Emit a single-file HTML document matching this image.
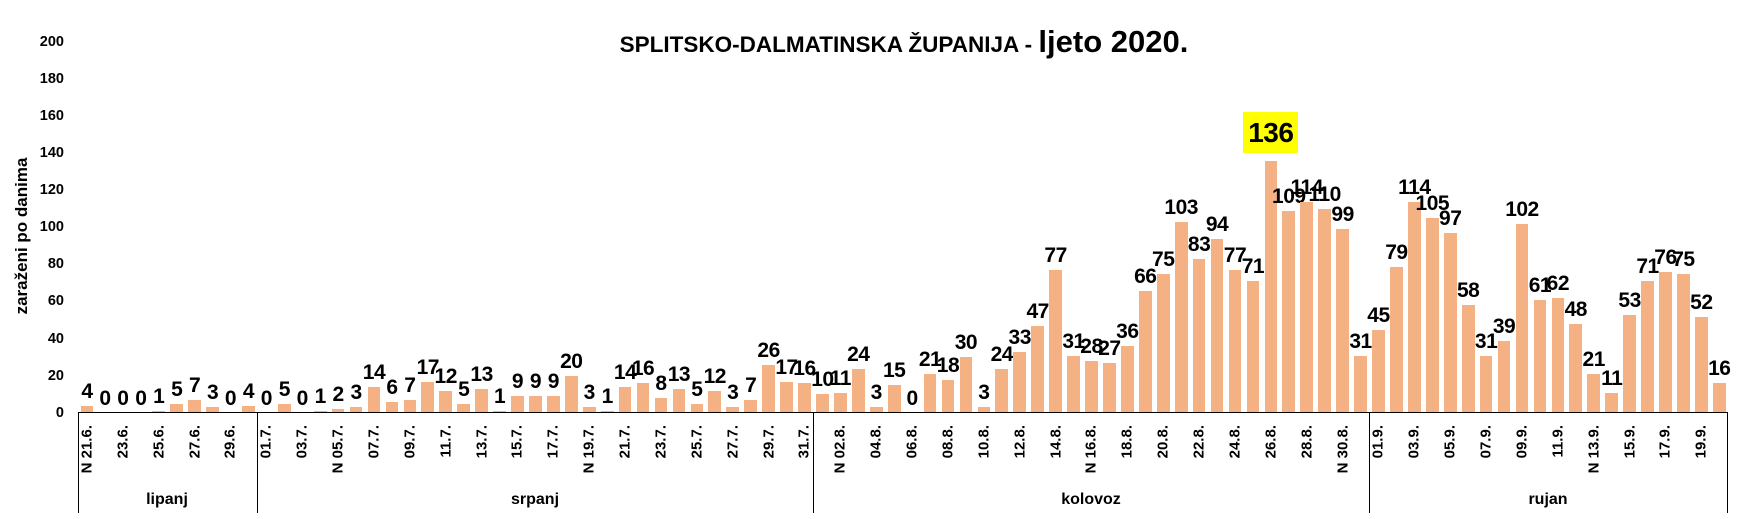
<!DOCTYPE html>
<html><head><meta charset="utf-8">
<style>
body{margin:0;width:1742px;height:519px;background:#fff;position:relative;overflow:hidden;font-family:"Liberation Sans",sans-serif;font-weight:bold;color:#000}
.plot{position:absolute;left:78px;top:0;width:1650px;height:413px;display:flex;align-items:flex-end}
.c{flex:1;min-width:0;display:flex;flex-direction:column;align-items:center;position:relative}
.l{font-size:21px;line-height:21px;margin-bottom:4px;white-space:nowrap;letter-spacing:-0.5px}
.b{width:12.7px;background:#F4B183}
.ticks{position:absolute;left:78px;top:413px;width:1650px;height:100px;display:flex}
.t{flex:1;position:relative}
.t span{position:absolute;left:50%;top:12px;transform-origin:0 0;transform:rotate(-90deg) translate(-100%,-50%);font-size:15px;white-space:nowrap;line-height:17px}
.yl{position:absolute;left:18px;width:46px;text-align:right;font-size:14.5px;line-height:16px}
.v{position:absolute;top:413px;width:1px;height:100px;background:#000}
.m{position:absolute;top:491px;font-size:16px;transform:translateX(-50%)}
</style></head><body>
<div style="position:absolute;left:39px;width:1730px;top:24px;text-align:center;white-space:nowrap"><span style="font-size:22.5px">SPLITSKO-DALMATINSKA ŽUPANIJA - </span><span style="font-size:31px">ljeto 2020.</span></div>
<div style="position:absolute;left:22px;top:236px;transform:translate(-50%,-50%) rotate(-90deg);font-size:17px;white-space:nowrap">zaraženi po danima</div>
<div class="yl" style="top:34px">200</div><div class="yl" style="top:71px">180</div><div class="yl" style="top:108px">160</div><div class="yl" style="top:145px">140</div><div class="yl" style="top:182px">120</div><div class="yl" style="top:219px">100</div><div class="yl" style="top:256px">80</div><div class="yl" style="top:293px">60</div><div class="yl" style="top:331px">40</div><div class="yl" style="top:368px">20</div><div class="yl" style="top:405px">0</div>
<div class="plot">
<div class="c"><div class="l">4</div><div class="b" style="height:7.4px"></div></div>
<div class="c"><div class="l">0</div><div class="b" style="height:0"></div></div>
<div class="c"><div class="l">0</div><div class="b" style="height:0"></div></div>
<div class="c"><div class="l">0</div><div class="b" style="height:0"></div></div>
<div class="c"><div class="l">1</div><div class="b" style="height:1.9px"></div></div>
<div class="c"><div class="l">5</div><div class="b" style="height:9.3px"></div></div>
<div class="c"><div class="l">7</div><div class="b" style="height:13px"></div></div>
<div class="c"><div class="l">3</div><div class="b" style="height:5.6px"></div></div>
<div class="c"><div class="l">0</div><div class="b" style="height:0"></div></div>
<div class="c"><div class="l">4</div><div class="b" style="height:7.4px"></div></div>
<div class="c"><div class="l">0</div><div class="b" style="height:0"></div></div>
<div class="c"><div class="l">5</div><div class="b" style="height:9.3px"></div></div>
<div class="c"><div class="l">0</div><div class="b" style="height:0"></div></div>
<div class="c"><div class="l">1</div><div class="b" style="height:1.9px"></div></div>
<div class="c"><div class="l">2</div><div class="b" style="height:3.7px"></div></div>
<div class="c"><div class="l">3</div><div class="b" style="height:5.6px"></div></div>
<div class="c"><div class="l">14</div><div class="b" style="height:26px"></div></div>
<div class="c"><div class="l">6</div><div class="b" style="height:11.1px"></div></div>
<div class="c"><div class="l">7</div><div class="b" style="height:13px"></div></div>
<div class="c"><div class="l">17</div><div class="b" style="height:31.5px"></div></div>
<div class="c"><div class="l">12</div><div class="b" style="height:22.3px"></div></div>
<div class="c"><div class="l">5</div><div class="b" style="height:9.3px"></div></div>
<div class="c"><div class="l">13</div><div class="b" style="height:24.1px"></div></div>
<div class="c"><div class="l">1</div><div class="b" style="height:1.9px"></div></div>
<div class="c"><div class="l">9</div><div class="b" style="height:16.7px"></div></div>
<div class="c"><div class="l">9</div><div class="b" style="height:16.7px"></div></div>
<div class="c"><div class="l">9</div><div class="b" style="height:16.7px"></div></div>
<div class="c"><div class="l">20</div><div class="b" style="height:37.1px"></div></div>
<div class="c"><div class="l">3</div><div class="b" style="height:5.6px"></div></div>
<div class="c"><div class="l">1</div><div class="b" style="height:1.9px"></div></div>
<div class="c"><div class="l">14</div><div class="b" style="height:26px"></div></div>
<div class="c"><div class="l">16</div><div class="b" style="height:29.7px"></div></div>
<div class="c"><div class="l">8</div><div class="b" style="height:14.8px"></div></div>
<div class="c"><div class="l">13</div><div class="b" style="height:24.1px"></div></div>
<div class="c"><div class="l">5</div><div class="b" style="height:9.3px"></div></div>
<div class="c"><div class="l">12</div><div class="b" style="height:22.3px"></div></div>
<div class="c"><div class="l">3</div><div class="b" style="height:5.6px"></div></div>
<div class="c"><div class="l">7</div><div class="b" style="height:13px"></div></div>
<div class="c"><div class="l">26</div><div class="b" style="height:48.2px"></div></div>
<div class="c"><div class="l">17</div><div class="b" style="height:31.5px"></div></div>
<div class="c"><div class="l">16</div><div class="b" style="height:29.7px"></div></div>
<div class="c"><div class="l">10</div><div class="b" style="height:18.6px"></div></div>
<div class="c"><div class="l">11</div><div class="b" style="height:20.4px"></div></div>
<div class="c"><div class="l">24</div><div class="b" style="height:44.5px"></div></div>
<div class="c"><div class="l">3</div><div class="b" style="height:5.6px"></div></div>
<div class="c"><div class="l">15</div><div class="b" style="height:27.8px"></div></div>
<div class="c"><div class="l">0</div><div class="b" style="height:0"></div></div>
<div class="c"><div class="l">21</div><div class="b" style="height:39px"></div></div>
<div class="c"><div class="l">18</div><div class="b" style="height:33.4px"></div></div>
<div class="c"><div class="l">30</div><div class="b" style="height:55.7px"></div></div>
<div class="c"><div class="l">3</div><div class="b" style="height:5.6px"></div></div>
<div class="c"><div class="l">24</div><div class="b" style="height:44.5px"></div></div>
<div class="c"><div class="l">33</div><div class="b" style="height:61.2px"></div></div>
<div class="c"><div class="l">47</div><div class="b" style="height:87.2px"></div></div>
<div class="c"><div class="l">77</div><div class="b" style="height:142.8px"></div></div>
<div class="c"><div class="l">31</div><div class="b" style="height:57.5px"></div></div>
<div class="c"><div class="l">28</div><div class="b" style="height:51.9px"></div></div>
<div class="c"><div class="l">27</div><div class="b" style="height:50.1px"></div></div>
<div class="c"><div class="l">36</div><div class="b" style="height:66.8px"></div></div>
<div class="c"><div class="l">66</div><div class="b" style="height:122.4px"></div></div>
<div class="c"><div class="l">75</div><div class="b" style="height:139.1px"></div></div>
<div class="c"><div class="l">103</div><div class="b" style="height:191.1px"></div></div>
<div class="c"><div class="l">83</div><div class="b" style="height:154px"></div></div>
<div class="c"><div class="l">94</div><div class="b" style="height:174.4px"></div></div>
<div class="c"><div class="l">77</div><div class="b" style="height:142.8px"></div></div>
<div class="c"><div class="l">71</div><div class="b" style="height:131.7px"></div></div>
<div class="c"><div class="l" style="font-size:28px;line-height:41px;background:#ff0;padding:0 5px;margin-bottom:8px">136</div><div class="b" style="height:252.3px"></div></div>
<div class="c"><div class="l">109</div><div class="b" style="height:202.2px"></div></div>
<div class="c"><div class="l">114</div><div class="b" style="height:211.5px"></div></div>
<div class="c"><div class="l">110</div><div class="b" style="height:204.1px"></div></div>
<div class="c"><div class="l">99</div><div class="b" style="height:183.6px"></div></div>
<div class="c"><div class="l">31</div><div class="b" style="height:57.5px"></div></div>
<div class="c"><div class="l">45</div><div class="b" style="height:83.5px"></div></div>
<div class="c"><div class="l">79</div><div class="b" style="height:146.5px"></div></div>
<div class="c"><div class="l">114</div><div class="b" style="height:211.5px"></div></div>
<div class="c"><div class="l">105</div><div class="b" style="height:194.8px"></div></div>
<div class="c"><div class="l">97</div><div class="b" style="height:179.9px"></div></div>
<div class="c"><div class="l">58</div><div class="b" style="height:107.6px"></div></div>
<div class="c"><div class="l">31</div><div class="b" style="height:57.5px"></div></div>
<div class="c"><div class="l">39</div><div class="b" style="height:72.3px"></div></div>
<div class="c"><div class="l">102</div><div class="b" style="height:189.2px"></div></div>
<div class="c"><div class="l">61</div><div class="b" style="height:113.2px"></div></div>
<div class="c"><div class="l">62</div><div class="b" style="height:115px"></div></div>
<div class="c"><div class="l">48</div><div class="b" style="height:89px"></div></div>
<div class="c"><div class="l">21</div><div class="b" style="height:39px"></div></div>
<div class="c"><div class="l">11</div><div class="b" style="height:20.4px"></div></div>
<div class="c"><div class="l">53</div><div class="b" style="height:98.3px"></div></div>
<div class="c"><div class="l">71</div><div class="b" style="height:131.7px"></div></div>
<div class="c"><div class="l">76</div><div class="b" style="height:141px"></div></div>
<div class="c"><div class="l">75</div><div class="b" style="height:139.1px"></div></div>
<div class="c"><div class="l">52</div><div class="b" style="height:96.5px"></div></div>
<div class="c"><div class="l">16</div><div class="b" style="height:29.7px"></div></div>
</div>
<div style="position:absolute;left:78px;top:412px;width:1650px;height:1px;background:#000"></div>
<div class="ticks">
<div class="t"><span>N 21.6.</span></div><div class="t"></div><div class="t"><span>23.6.</span></div><div class="t"></div><div class="t"><span>25.6.</span></div><div class="t"></div><div class="t"><span>27.6.</span></div><div class="t"></div><div class="t"><span>29.6.</span></div><div class="t"></div>
<div class="t"><span>01.7.</span></div><div class="t"></div><div class="t"><span>03.7.</span></div><div class="t"></div><div class="t"><span>N 05.7.</span></div><div class="t"></div><div class="t"><span>07.7.</span></div><div class="t"></div><div class="t"><span>09.7.</span></div><div class="t"></div><div class="t"><span>11.7.</span></div><div class="t"></div><div class="t"><span>13.7.</span></div><div class="t"></div><div class="t"><span>15.7.</span></div><div class="t"></div><div class="t"><span>17.7.</span></div><div class="t"></div><div class="t"><span>N 19.7.</span></div><div class="t"></div><div class="t"><span>21.7.</span></div><div class="t"></div><div class="t"><span>23.7.</span></div><div class="t"></div><div class="t"><span>25.7.</span></div><div class="t"></div><div class="t"><span>27.7.</span></div><div class="t"></div><div class="t"><span>29.7.</span></div><div class="t"></div><div class="t"><span>31.7.</span></div>
<div class="t"></div><div class="t"><span>N 02.8.</span></div><div class="t"></div><div class="t"><span>04.8.</span></div><div class="t"></div><div class="t"><span>06.8.</span></div><div class="t"></div><div class="t"><span>08.8.</span></div><div class="t"></div><div class="t"><span>10.8.</span></div><div class="t"></div><div class="t"><span>12.8.</span></div><div class="t"></div><div class="t"><span>14.8.</span></div><div class="t"></div><div class="t"><span>N 16.8.</span></div><div class="t"></div><div class="t"><span>18.8.</span></div><div class="t"></div><div class="t"><span>20.8.</span></div><div class="t"></div><div class="t"><span>22.8.</span></div><div class="t"></div><div class="t"><span>24.8.</span></div><div class="t"></div><div class="t"><span>26.8.</span></div><div class="t"></div><div class="t"><span>28.8.</span></div><div class="t"></div><div class="t"><span>N 30.8.</span></div><div class="t"></div>
<div class="t"><span>01.9.</span></div><div class="t"></div><div class="t"><span>03.9.</span></div><div class="t"></div><div class="t"><span>05.9.</span></div><div class="t"></div><div class="t"><span>07.9.</span></div><div class="t"></div><div class="t"><span>09.9.</span></div><div class="t"></div><div class="t"><span>11.9.</span></div><div class="t"></div><div class="t"><span>N 13.9.</span></div><div class="t"></div><div class="t"><span>15.9.</span></div><div class="t"></div><div class="t"><span>17.9.</span></div><div class="t"></div><div class="t"><span>19.9.</span></div><div class="t"></div>
</div>
<div class="v" style="left:78px"></div><div class="v" style="left:257px"></div><div class="v" style="left:813px"></div><div class="v" style="left:1369px"></div><div class="v" style="left:1727px"></div>
<div class="m" style="left:167px">lipanj</div><div class="m" style="left:535px">srpanj</div><div class="m" style="left:1091px">kolovoz</div><div class="m" style="left:1548px">rujan</div>
</body></html>
